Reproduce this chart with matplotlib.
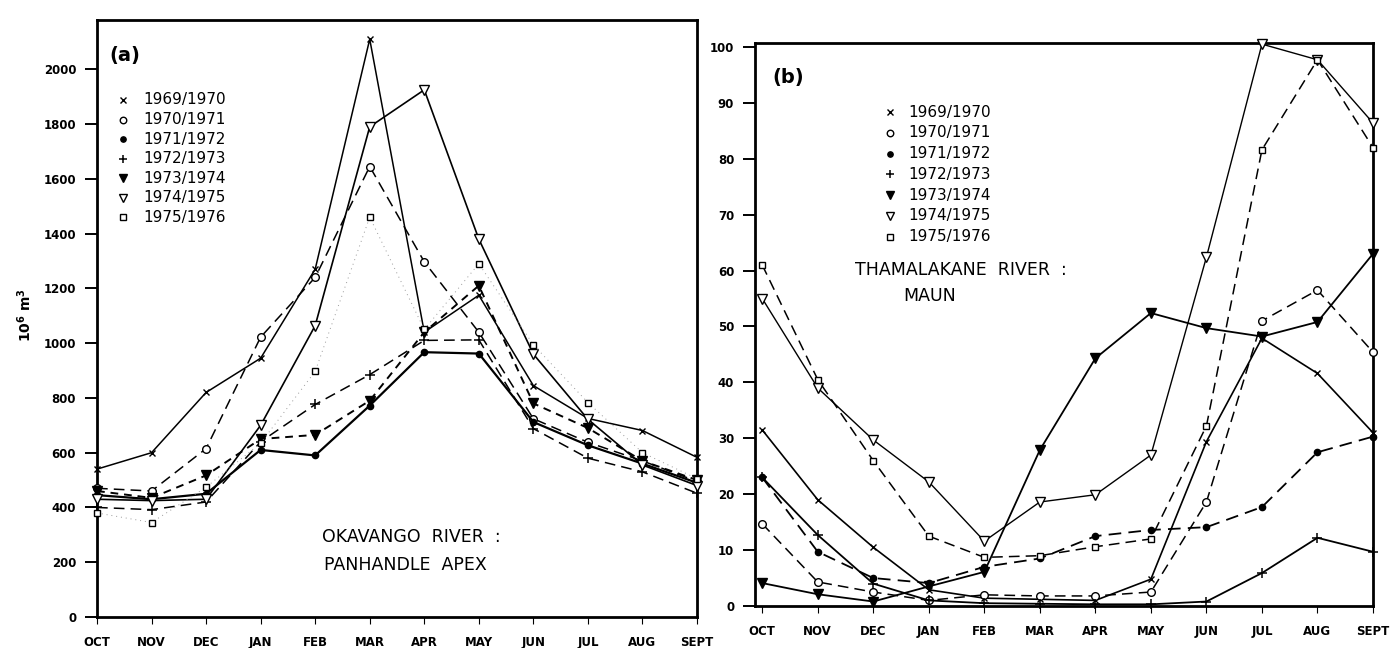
import matplotlib
matplotlib.use("Agg")
import matplotlib.pyplot as plt
import numpy as np

plt.rcParams['font.family'] = ['DejaVu Sans']

months = ['OCT', 'NOV', 'DEC', 'JAN', 'FEB', 'MAR', 'APR', 'MAY', 'JUN', 'JUL', 'AUG', 'SEPT']
labels = ['1969/1970', '1970/1971', '1971/1972', '1972/1973', '1973/1974', '1974/1975', '1975/1976']

# Panel (a): Okavango River, Panhandle Apex (10^6 m^3)
a_1969 = [540, 600, 820, 945, 1270, 2110, 1040, 1175, 845, 725, 681, 583]
a_1970 = [470, 460, 615, 1022, 1240, 1645, 1297, 1040, 724, 638, 570, 495]
a_1971 = [445, 430, 450, 610, 590, 772, 967, 962, 712, 627, 560, 490]
a_1972 = [400, 392, 420, 640, 776, 885, 1010, 1012, 688, 580, 530, 452]
a_1973 = [460, 435, 517, 650, 665, 790, 1040, 1210, 780, 690, 570, 500]
a_1974 = [430, 425, 430, 700, 1064, 1790, 1925, 1380, 960, 722, 555, 480]
a_1975 = [380, 345, 474, 635, 897, 1460, 1050, 1290, 994, 783, 600, 505]

# Panel (b): Thamalakane River, Maun
b_1969 = [31.5, 19.0, 10.5, 2.9, 1.4, 1.2, 1.0, 4.8, 29.4, 47.9, 41.6, 31.0]
b_1970 = [14.7, 4.3, 2.5, 1.0, 2.0, 1.8, 1.8, 2.5, 18.6, 51.0, 56.5, 45.4]
b_1971 = [23.0, 9.7, 5.0, 4.1, 7.0, 8.5, 12.5, 13.6, 14.1, 17.7, 27.5, 30.3]
b_1972 = [23.0, 12.7, 4.0, 1.0, 0.5, 0.4, 0.3, 0.3, 0.8, 5.9, 12.2, 9.7]
b_1973 = [4.1, 2.1, 0.8, 3.5, 6.1, 27.9, 44.3, 52.4, 49.7, 48.2, 50.8, 63.0]
b_1974 = [55.0, 39.0, 29.7, 22.2, 11.6, 18.6, 19.9, 27.0, 62.4, 100.5, 97.7, 86.4]
b_1975 = [61.0, 40.5, 26.0, 12.5, 8.7, 9.0, 10.6, 12.0, 32.2, 81.6, 97.7, 82.0]

a_series = [a_1969, a_1970, a_1971, a_1972, a_1973, a_1974, a_1975]
b_series = [b_1969, b_1970, b_1971, b_1972, b_1973, b_1974, b_1975]

# marker styles per season
mk = [
    dict(marker='x', ms=5, mew=1.0, mfc='black', mec='black'),
    dict(marker='o', ms=5.5, mew=1.0, mfc='white', mec='black'),
    dict(marker='o', ms=4.5, mew=1.0, mfc='black', mec='black'),
    dict(marker='+', ms=6.5, mew=1.1, mfc='black', mec='black'),
    dict(marker='v', ms=7.5, mew=1.0, mfc='black', mec='black'),
    dict(marker='v', ms=7.5, mew=1.0, mfc='white', mec='black'),
    dict(marker='s', ms=4.5, mew=1.0, mfc='white', mec='black'),
]
a_ls = [
    dict(ls='-', lw=1.1, color='black'),
    dict(ls=(0, (7, 4)), lw=1.1, color='black'),
    dict(ls='-', lw=1.6, color='black'),
    dict(ls=(0, (7, 4)), lw=1.1, color='black'),
    dict(ls=(0, (4, 3)), lw=1.4, color='black'),
    dict(ls='-', lw=1.2, color='black'),
    dict(ls=(0, (1, 4)), lw=0.7, color='#9a9a9a'),
]
b_ls = [
    dict(ls='-', lw=1.2, color='black'),
    dict(ls=(0, (7, 4)), lw=1.1, color='black'),
    dict(ls=(0, (7, 4)), lw=1.3, color='black'),
    dict(ls='-', lw=1.3, color='black'),
    dict(ls='-', lw=1.3, color='black'),
    dict(ls='-', lw=1.0, color='black'),
    dict(ls=(0, (7, 4)), lw=1.1, color='black'),
]

fig = plt.figure(figsize=(13.93, 6.48), dpi=100)
axa = fig.add_axes([97 / 1393, 1 - 617 / 648, 600 / 1393, 597 / 648])
axb = fig.add_axes([755 / 1393, 1 - 606 / 648, 618 / 1393, 563 / 648])

x = np.arange(len(months))

def style_axes(ax):
    for s in ax.spines.values():
        s.set_linewidth(2.0)
        s.set_color('black')
    ax.set_xticks(x)
    ax.set_xticklabels(months)
    ax.tick_params(axis='x', direction='out', length=5, width=0.8, pad=9,
                   labelsize=8.5)
    ax.tick_params(axis='y', direction='out', length=9, width=1.4, pad=6,
                   labelsize=8.5)
    for lab in ax.get_xticklabels() + ax.get_yticklabels():
        lab.set_fontweight('bold')

for vals, m, l in zip(a_series, mk, a_ls):
    axa.plot(x, vals, clip_on=False, zorder=3, **l, **m)
axa.set_xlim(0, 11)
axa.set_ylim(0, 2180)
axa.set_yticks(np.arange(0, 2001, 200))
style_axes(axa)

for vals, m, l in zip(b_series, mk, b_ls):
    axb.plot(x, vals, clip_on=False, zorder=3, **l, **m)
axb.set_xlim(-0.13, 11)
axb.set_ylim(0, 100.7)
axb.set_yticks(np.arange(0, 101, 10))
style_axes(axb)

# legends drawn as marker + text rows
def draw_legend(ax, mx, tx, y0, dy, fs):
    for i, (lab, m) in enumerate(zip(labels, mk)):
        yy = y0 - i * dy
        mm = dict(m)
        mm['ms'] = mm['ms'] * 0.85
        ax.plot([mx], [yy], transform=ax.transAxes, ls='none', clip_on=False, **mm)
        ax.text(tx, yy, lab, transform=ax.transAxes, fontsize=fs,
                va='center', ha='left')

draw_legend(axa, 0.043, 0.077, 0.866, 0.0327, 11)
draw_legend(axb, 0.218, 0.248, 0.877, 0.0368, 11)

axa.text(0.047, 0.941, '(a)', transform=axa.transAxes, fontsize=14,
         fontweight='bold', ha='center', va='center')
axb.text(0.053, 0.938, '(b)', transform=axb.transAxes, fontsize=14,
         fontweight='bold', ha='center', va='center')

axa.text(0.375, 0.134, 'OKAVANGO  RIVER  :', transform=axa.transAxes,
         fontsize=12.5, ha='left', va='center')
axa.text(0.378, 0.087, 'PANHANDLE  APEX', transform=axa.transAxes,
         fontsize=12.5, ha='left', va='center')
axb.text(0.162, 0.597, 'THAMALAKANE  RIVER  :', transform=axb.transAxes,
         fontsize=12.5, ha='left', va='center')
axb.text(0.283, 0.550, 'MAUN', transform=axb.transAxes,
         fontsize=12.5, ha='center', va='center')

fig.text(25 / 1393, 1 - 315 / 648, r'$\mathbf{10^6\ m^3}$', rotation=90,
         fontsize=10, ha='center', va='center')

fig.savefig('out.png', dpi=100)
